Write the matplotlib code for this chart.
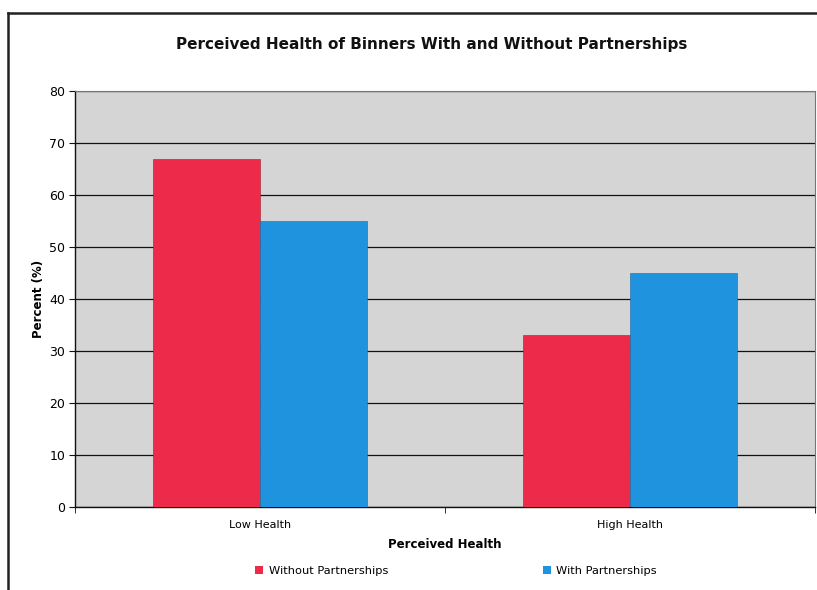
import matplotlib
matplotlib.use("Agg")
import matplotlib.pyplot as plt
from matplotlib.lines import Line2D
import numpy as np

categories = ["Low Health", "High Health"]
series_names = ["Without Partnerships", "With Partnerships"]
without_vals = [67, 33]
with_vals = [55, 45]
colors = ["#ee2a4a", "#1f93dd"]

W, H = 817, 590
fig = plt.figure(figsize=(W / 100, H / 100), dpi=100)
fig.patch.set_facecolor("white")

# outer chart frame (scanned border)
fig.add_artist(Line2D([8 / W, 1.0], [1 - 13 / H, 1 - 13 / H], color="#222222", lw=1.8,
                      transform=fig.transFigure))
fig.add_artist(Line2D([8 / W, 8 / W], [0, 1 - 13 / H], color="#222222", lw=1.8,
                      transform=fig.transFigure))

ax = fig.add_axes([75 / W, 1 - 507 / H, (815 - 75) / W, (507 - 91) / H])
ax.set_facecolor("#d5d5d5")

x = np.arange(len(categories))
bw = 0.29
ax.bar(x - bw / 2, without_vals, bw, color=colors[0], label=series_names[0], zorder=3,
       edgecolor="#9a2030", linewidth=0.4)
ax.bar(x + bw / 2, with_vals, bw, color=colors[1], label=series_names[1], zorder=3,
       edgecolor="#1a6aa0", linewidth=0.4)

ax.set_xlim(-0.5, 1.5)
ax.set_ylim(0, 80)
ax.set_yticks(range(0, 81, 10))
ax.yaxis.grid(True, color="#111111", linewidth=0.9, zorder=1)
ax.set_axisbelow(True)

ax.set_xticks(x)
ax.set_xticklabels(categories, fontsize=8)
ax.set_xticks([-0.5, 0.5, 1.5], minor=True)
ax.tick_params(axis="x", which="major", length=0, pad=9)
ax.tick_params(axis="x", which="minor", length=4, direction="out", color="#111111")
ax.tick_params(axis="y", labelsize=9, length=4, direction="out", color="#111111", pad=3)

for s in ["left", "bottom"]:
    ax.spines[s].set_color("#111111")
    ax.spines[s].set_linewidth(1.0)
for s in ["top", "right"]:
    ax.spines[s].set_color("#777777")
    ax.spines[s].set_linewidth(0.8)

ax.set_xlabel("Perceived Health", fontsize=8.5, fontweight="bold", labelpad=6)
ax.set_ylabel("Percent (%)", fontsize=8.5, fontweight="bold", labelpad=3)

fig.text(432 / W, 1 - 45 / H, "Perceived Health of Binners With and Without Partnerships",
         ha="center", va="center", fontsize=11, fontweight="bold", color="#111111")

leg = fig.legend(loc="center", bbox_to_anchor=(456 / W, 1 - 571 / H), ncol=2,
                 frameon=False, fontsize=8.2, handlelength=0.7, handleheight=0.7,
                 handletextpad=0.5, columnspacing=13.6)
for h in leg.legend_handles:
    h.set_edgecolor("none")

fig.savefig("out.png", dpi=100)
